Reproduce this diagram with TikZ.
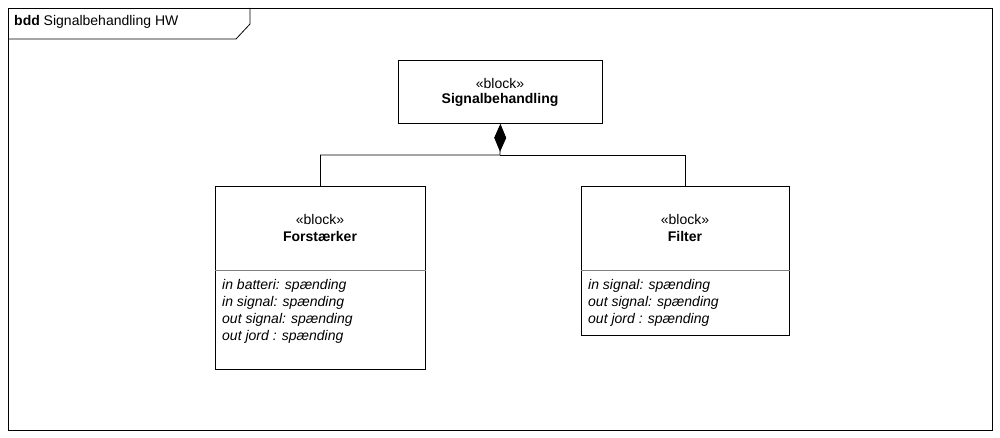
\documentclass[tikz,border=0pt]{standalone}
\usepackage{fontspec}
\setmainfont{Liberation Sans}
\usetikzlibrary{arrows.meta,calc}

\tikzset{
  block/.style={draw,line width=0.8pt,anchor=north west,inner sep=0pt},
  lbl/.style={inner sep=0pt,font=\fontsize{14}{17}\selectfont},
  attr/.style={lbl,anchor=north west,align=left,font=\fontsize{14}{17}\selectfont\itshape},
  comp/.style={line width=0.8pt,-{Diamond[length=28pt,width=12pt]}}
}

\begin{document}
\begin{tikzpicture}[x=1pt,y=-1pt]
		\useasboundingbox (0,0) rectangle (1000,438);
		% frame with tab
		\draw[line width=0.8pt] (8,8) rectangle (992,430);
		\draw[line width=0.8pt] (8,39) -- (236,39) -- (250,24) -- (250,8);
		\node[lbl,anchor=west] (title) at (14,22) {\textbf{bdd} Signalbehandling HW};

		% blocks
		\node[block,minimum width=204pt,minimum height=63pt] (sig) at (398,60) {};
		\node[lbl] (sigst) at (500,83) {«block»};
		\node[lbl] (signame) at (500,100) {\textbf{Signalbehandling}};

		\node[block,minimum width=210pt,minimum height=183pt] (forst) at (215,186) {};
		\node[lbl] (forstst) at (320,219) {«block»};
		\node[lbl] (forstname) at (320,236) {\textbf{Forstærker}};
		\draw[gray,line width=0.6pt] ($(forst.north west)+(0,84)$) -- ($(forst.north east)+(0,84)$);
		\node[attr] (forstattr) at (222,279) {in batteri: spænding\\in signal: spænding\\out signal: spænding\\out jord : spænding};

		\node[block,minimum width=208pt,minimum height=149pt] (filter) at (581,186) {};
		\node[lbl] (filterst) at (685,219) {«block»};
		\node[lbl] (filtername) at (685,236) {\textbf{Filter}};
		\draw[gray,line width=0.6pt] ($(filter.north west)+(0,84)$) -- ($(filter.north east)+(0,84)$);
		\node[attr] (filterattr) at (588,279) {in signal: spænding\\out signal: spænding\\out jord : spænding};

		% composition
		\coordinate (bus) at (500,155);
		\draw[comp] (forst.north) |- (bus) -- (sig.south);
		\draw[line width=0.8pt] (filter.north) |- (bus);
\end{tikzpicture}
\end{document}
